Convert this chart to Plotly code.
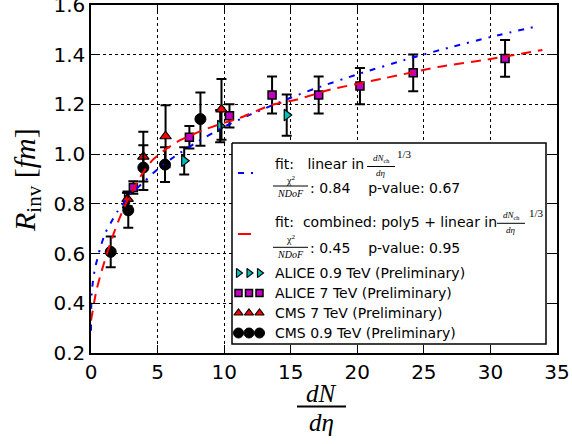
import plotly.graph_objects as go

# ---- data -------------------------------------------------------------
alice09_x = [2.70, 7.00, 9.70, 14.70]
alice09_y = [0.815, 0.973, 1.113, 1.157]
alice09_e = [0.030, 0.055, 0.065, 0.083]

alice7_x = [3.18, 7.39, 10.40, 13.60, 17.10, 20.20, 24.20, 31.10]
alice7_y = [0.866, 1.068, 1.154, 1.238, 1.238, 1.274, 1.327, 1.385]
alice7_e = [0.025, 0.045, 0.047, 0.074, 0.074, 0.073, 0.074, 0.074]

cms7_x = [2.75, 3.93, 5.60, 9.80]
cms7_y = [0.820, 0.990, 1.072, 1.180]
cms7_e = [0.030, 0.100, 0.125, 0.122]

cms09_x = [1.48, 2.80, 3.93, 5.56, 8.22]
cms09_y = [0.607, 0.774, 0.946, 0.958, 1.141]
cms09_e = [0.062, 0.070, 0.090, 0.070, 0.107]

# fit curves (sampled)
fit_lin_x = [0.0, 0.01, 0.05, 0.15, 0.3, 0.68, 1.05, 1.5, 2.0, 3.0, 4.0, 5.0, 6.0,
             8.0, 10.0, 12.0, 15.0, 17.0, 20.0, 24.0, 27.0, 30.0, 33.7]
fit_lin_y = [0.29, 0.37, 0.44, 0.49, 0.54, 0.62, 0.68, 0.725, 0.77, 0.84, 0.89, 0.94, 0.98,
             1.05, 1.11, 1.16, 1.227, 1.267, 1.321, 1.386, 1.43, 1.471, 1.517]

fit_comb_x = [0.0, 0.4, 0.8, 1.2, 1.7, 2.2, 2.7, 3.2, 3.6, 4.1, 4.6, 5.7, 6.7, 8.3,
              9.7, 11.1, 13.5, 15.5, 18.0, 22.0, 26.2, 29.8, 33.9]
fit_comb_y = [0.33, 0.45, 0.53, 0.60, 0.68, 0.75, 0.81, 0.86, 0.90, 0.94, 0.975, 1.023,
              1.056, 1.094, 1.121, 1.144, 1.197, 1.22, 1.26, 1.305, 1.352, 1.381, 1.419]

x_ticks = [0, 5, 10, 15, 20, 25, 30, 35]
y_ticks = [0.2, 0.4, 0.6, 0.8, 1.0, 1.2, 1.4, 1.6]

# ---- geometry helpers ---------------------------------------------------
W, H = 572, 444
L, R, T, B = 91, 15, 5, 91
PW, PH = W - L - R, H - T - B


def px(x):
    return (x - L) / PW


def py(y):
    return (H - B - y) / PH


BLUE = "#0000ff"
RED = "#ff0000"
MAG = "#bf00bf"
CYAN = "#00bfbf"
BLUE_DASH = "6px,7px,2px,7px"
RED_DASH = "10px,7px"

fig = go.Figure()


def errs(x, y, e, symbol, size, color, lw):
    fig.add_trace(go.Scatter(
        x=x, y=y, mode="markers",
        marker=dict(symbol=symbol, size=size, color=color,
                    line=dict(color="black", width=lw)),
        error_y=dict(type="data", array=e, color="black", thickness=2, width=5),
        showlegend=False))


errs(alice09_x, alice09_y, alice09_e, "triangle-right", 10, CYAN, 1.2)
errs(alice7_x, alice7_y, alice7_e, "square", 8, MAG, 1.5)
errs(cms7_x, cms7_y, cms7_e, "triangle-up", 10, RED, 1.2)
errs(cms09_x, cms09_y, cms09_e, "circle", 11, "black", 1)

fig.add_trace(go.Scatter(x=fit_lin_x, y=fit_lin_y, mode="lines",
                         line=dict(color=BLUE, width=2, dash=BLUE_DASH, shape="spline",
                                   smoothing=0.6),
                         showlegend=False))
fig.add_trace(go.Scatter(x=fit_comb_x, y=fit_comb_y, mode="lines",
                         line=dict(color=RED, width=2, dash=RED_DASH, shape="spline",
                                   smoothing=0.6),
                         showlegend=False))

# ---- legend (drawn by hand, in pixel units on an overlay axis) ----------
box_x = [232, 546, 546, 232, 232]
box_y = [143, 143, 344, 344, 143]
fig.add_trace(go.Scatter(x=box_x, y=box_y, mode="lines", xaxis="x2", yaxis="y2",
                         fill="toself", fillcolor="white",
                         line=dict(color="black", width=1.5),
                         showlegend=False, hoverinfo="skip"))

shapes = [
    dict(type="line", xref="paper", yref="paper", x0=px(238), x1=px(258),
         y0=py(173), y1=py(173), line=dict(color=BLUE, width=2, dash=BLUE_DASH)),
    dict(type="line", xref="paper", yref="paper", x0=px(238), x1=px(251),
         y0=py(234), y1=py(234), line=dict(color=RED, width=2)),
    # x-axis title fraction bar
    dict(type="line", xref="paper", yref="paper", x0=px(297), x1=px(346),
         y0=py(406.5), y1=py(406.5), line=dict(color="black", width=2)),
]

ann = []
SANS = "DejaVu Sans"
SERIF = "Liberation Serif"


def text(x, y, s, size=14, family=SANS, xa="left", color="black", angle=0):
    ann.append(dict(x=px(x), y=py(y), xref="paper", yref="paper", text=s,
                    showarrow=False, xanchor=xa, yanchor="middle",
                    font=dict(family=family, size=size, color=color),
                    textangle=angle))


def frac(xc, y_num, y_line, y_den, num, den, x0, x1, size=10):
    text(xc, y_num, num, size=size, family=SERIF, xa="center")
    text(xc, y_den, den, size=size, family=SERIF, xa="center")
    shapes.append(dict(type="line", xref="paper", yref="paper", x0=px(x0), x1=px(x1),
                       y0=py(y_line), y1=py(y_line), line=dict(color="black", width=1)))


NB = "\u00a0"
# fit entry 1
text(273, 164, "fit:" + NB * 3 + "linear in")
frac(381, 158, 166.5, 173, "<i>dN</i><sub>ch</sub>", "<i>dη</i>", 367, 395, size=9)
text(404, 154, "1/3", size=11, family=SERIF, xa="center")
frac(290.5, 180, 186, 193.5, "χ<sup>2</sup>", "<i>NDoF</i>", 273, 308, size=10)
text(308, 188, ": 0.84" + NB * 4 + "p-value: 0.67")
# fit entry 2
text(273, 222, "fit:" + NB * 2 + "combined: poly5 + linear in")
frac(511, 215, 223.3, 230, "<i>dN</i><sub>ch</sub>", "<i>dη</i>", 497, 525, size=9)
text(536, 212.5, "1/3", size=11, family=SERIF, xa="center")
frac(290.5, 239, 247.3, 254.5, "χ<sup>2</sup>", "<i>NDoF</i>", 273, 308, size=10)
text(308, 248, ": 0.45" + NB * 4 + "p-value: 0.95")
# data entries
rows = [(273, "ALICE 0.9 TeV (Preliminary)", "triangle-right", 8, CYAN, 1.2),
        (293, "ALICE 7 TeV (Preliminary)", "square", 7, MAG, 1.5),
        (313, "CMS 7 TeV (Preliminary)", "triangle-up", 8, RED, 1.2),
        (333, "CMS 0.9 TeV (Preliminary)", "circle", 10, "black", 1)]
for yy, label, sym, sz, col, lw in rows:
    text(273, yy, label)
    fig.add_trace(go.Scatter(
        x=[238.5, 249, 259.5], y=[yy] * 3, mode="markers", xaxis="x2", yaxis="y2",
        marker=dict(symbol=sym, size=sz, color=col, line=dict(color="black", width=lw)),
        showlegend=False, hoverinfo="skip"))

# axis titles
text(27, 180, "<i>R</i><sub>inv</sub> [<i>fm</i>]", size=30, family=SERIF,
     xa="center", angle=-90)
text(321.5, 393, "<i>dN</i>", size=25, family=SERIF, xa="center")
text(321.5, 422, "<i>dη</i>", size=25, family=SERIF, xa="center")

axis_common = dict(showline=True, linecolor="black", linewidth=1.5, mirror="ticks",
                   ticks="inside", ticklen=8, tickwidth=1, tickcolor="black",
                   showgrid=True, gridcolor="black", gridwidth=1, griddash="dot",
                   zeroline=False, ticklabeloverflow="allow", automargin=False,
                   tickfont=dict(family=SANS, size=20, color="black"))

fig.update_layout(
    width=W, height=H, autosize=False,
    margin=dict(l=L, r=R, t=T, b=B, pad=0),
    paper_bgcolor="white", plot_bgcolor="white",
    showlegend=False,
    xaxis=dict(range=[0, 35], tickvals=x_ticks, **axis_common),
    yaxis=dict(range=[0.2, 1.6], tickvals=y_ticks, tickformat=".1f", **axis_common),
    xaxis2=dict(range=[L, W - R], overlaying="x", visible=False),
    yaxis2=dict(range=[H - B, T], overlaying="y", visible=False),
    shapes=shapes,
    annotations=ann,
)

fig.write_html("out.html")
